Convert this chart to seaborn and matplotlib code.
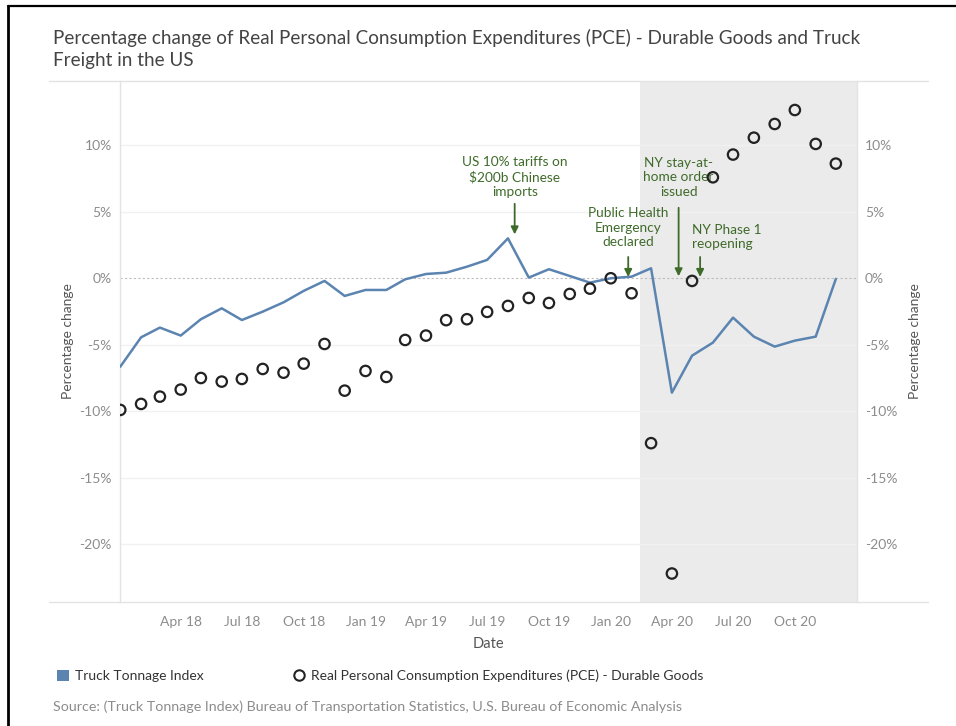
import pandas as pd
import seaborn as sns
import matplotlib.pyplot as plt
import matplotlib.dates as mdates
from matplotlib.lines import Line2D
from matplotlib.patches import Patch
from matplotlib.ticker import FuncFormatter, MultipleLocator

# monthly values
months = pd.date_range("2018-01-01", "2020-12-01", freq="MS")
truck_pct = [
    -6.65, -4.44, -3.71, -4.31, -3.08, -2.26, -3.14, -2.51, -1.81, -0.95, -0.20, -1.33,
    -0.88, -0.88, -0.08, 0.32, 0.42, 0.87, 1.38, 3.00, 0.05, 0.68, 0.17, -0.33,
    0.00, 0.12, 0.75, -8.60, -5.82, -4.84, -2.96, -4.39, -5.14, -4.69, -4.39, -0.05,
]
pce_pct = [
    -9.90, -9.45, -8.90, -8.37, -7.50, -7.77, -7.57, -6.82, -7.10, -6.42, -4.94, -8.45,
    -6.97, -7.42, -4.64, -4.31, -3.15, -3.08, -2.53, -2.08, -1.48, -1.86, -1.18, -0.78,
    0.00, -1.13, -12.40, -22.20, -0.20, 7.59, 9.30, 10.57, 11.60, 12.65, 10.10, 8.62,
]

shade_start = pd.Timestamp("2020-02-14")
x_start = pd.Timestamp("2018-01-01")
x_end = pd.Timestamp("2021-01-01")

tick_dates = pd.date_range("2018-04-01", "2020-10-01", freq="3MS")
tick_labels = [d.strftime("%b %y") for d in tick_dates]

events = [
    "US 10% tariffs on\n$200b Chinese\nimports",
    "Public Health\nEmergency\ndeclared",
    "NY stay-at-\nhome order\nissued",
    "NY Phase 1\nreopening",
]
event_dates = pd.to_datetime(["2019-08-11", "2020-01-27", "2020-04-11", "2020-05-13"])

TRUCK_COLOR = "#5b84b1"
GREEN = "#3f6b2a"
GRAY = "#8c8c8c"

df = pd.DataFrame({"Date": months, "Truck": truck_pct, "PCE": pce_pct})

sns.set_theme(style="white")
plt.rcParams["font.family"] = ["Lato", "DejaVu Sans"]

fig = plt.figure(figsize=(9.56, 7.26), dpi=100)
ax = fig.add_axes([0.1258, 0.1712, 0.7703, 0.7172])

ax.axvspan(shade_start, x_end, color="#ebebeb", zorder=0, lw=0)

for v in [-20, -15, -10, -5, 5, 10]:
    ax.axhline(v, color="#f1f1f1", lw=1, zorder=1)
ax.axhline(0, color="#bdbdbd", lw=0.8, ls=(0, (2, 2)), zorder=1)

sns.lineplot(data=df, x="Date", y="Truck", color=TRUCK_COLOR, linewidth=1.8,
             ax=ax, zorder=3)
sns.scatterplot(data=df, x="Date", y="PCE", marker="o", s=56, facecolors="none",
                edgecolor="#222222", linewidth=1.6, ax=ax, zorder=5)

ax.set_xlim(x_start, x_end)
ax.set_ylim(-24.32, 14.83)

ax.yaxis.set_major_locator(MultipleLocator(5))
pct_fmt = FuncFormatter(lambda v, p: f"{v:.0f}%")
ax.yaxis.set_major_formatter(pct_fmt)
ax.set_xticks(tick_dates)
ax.set_xticklabels(tick_labels)
ax.xaxis.set_minor_locator(mdates.MonthLocator())
ax.tick_params(axis="x", which="major", length=4, color="#e6e6e6", labelsize=10,
               labelcolor=GRAY, pad=6)
ax.tick_params(axis="x", which="minor", length=4, color="#e6e6e6")
ax.tick_params(axis="y", length=0, labelsize=10, labelcolor=GRAY, pad=6)

ax.set_xlabel("Date", fontsize=10.5, color="#555555", labelpad=7)
ax.set_ylabel("Percentage change", fontsize=10, color="#555555", labelpad=4)

for side in ["top", "bottom"]:
    ax.spines[side].set_visible(False)
for side in ["left", "right"]:
    ax.spines[side].set_color("#e3e3e3")
    ax.spines[side].set_linewidth(1)

ax2 = ax.twinx()
ax2.set_ylim(ax.get_ylim())
ax2.yaxis.set_major_locator(MultipleLocator(5))
ax2.yaxis.set_major_formatter(pct_fmt)
ax2.tick_params(axis="y", length=0, labelsize=10, labelcolor=GRAY, pad=6)
ax2.set_ylabel("Percentage change", fontsize=10, color="#555555", labelpad=8,
               rotation=90)
for side in ["top", "bottom", "left", "right"]:
    ax2.spines[side].set_visible(False)

# annotations
arrow = dict(arrowstyle="-|>", color=GREEN, lw=1.3, mutation_scale=11,
             shrinkA=0, shrinkB=0)
txt = dict(color=GREEN, fontsize=9.8, linespacing=1.25, zorder=4)

ax.annotate("", xy=(event_dates[0], 3.3), xytext=(event_dates[0], 5.6), arrowprops=arrow)
ax.text(event_dates[0], 7.6, events[0], ha="center", va="center", **txt)

ax.annotate("", xy=(event_dates[1], 0.1), xytext=(event_dates[1], 1.6), arrowprops=arrow)
ax.text(event_dates[1], 3.78, events[1], ha="center", va="center", **txt)

ax.annotate("", xy=(event_dates[2], 0.15), xytext=(event_dates[2], 5.3), arrowprops=arrow)
ax.text(event_dates[2], 7.6, events[2], ha="center", va="center", **txt)

ax.annotate("", xy=(event_dates[3], 0.1), xytext=(event_dates[3], 1.6), arrowprops=arrow)
ax.text(pd.Timestamp("2020-05-01"), 3.1, events[3], ha="left", va="center", **txt)

# pane border lines and outer frame
for y in [0.8884, 0.1712]:
    fig.add_artist(Line2D([0.0513, 0.9707], [y, y], color="#e3e3e3", lw=1,
                          transform=fig.transFigure))
fig.add_artist(Line2D([0.0084, 1.0], [0.9917, 0.9917], color="black", lw=1.6,
                      transform=fig.transFigure))
fig.add_artist(Line2D([0.0084, 0.0084], [0.0, 0.9917], color="black", lw=2,
                      transform=fig.transFigure))

fig.text(0.0555, 0.9325,
         "Percentage change of Real Personal Consumption Expenditures (PCE) - Durable Goods and Truck\nFreight in the US",
         fontsize=13.6, color="#444444", ha="left", va="center", linespacing=1.42)

handles = [
    Patch(facecolor=TRUCK_COLOR, edgecolor="none"),
    Line2D([], [], marker="o", ls="none", markerfacecolor="none",
           markeredgecolor="#222222", markeredgewidth=1.5, markersize=7.5),
]
fig.legend(handles, ["Truck Tonnage Index",
                     "Real Personal Consumption Expenditures (PCE) - Durable Goods"],
           loc="center left", bbox_to_anchor=(0.047, 0.069), ncol=2, frameon=False,
           fontsize=10, handlelength=0.8, handleheight=0.8, handletextpad=0.5,
           columnspacing=6.4, labelcolor="#333333")

fig.text(0.0555, 0.027,
         "Source: (Truck Tonnage Index) Bureau of Transportation Statistics, U.S. Bureau of Economic Analysis",
         fontsize=10.3, color=GRAY, ha="left", va="center")

fig.savefig("out.png", dpi=100)
plt.close(fig)
